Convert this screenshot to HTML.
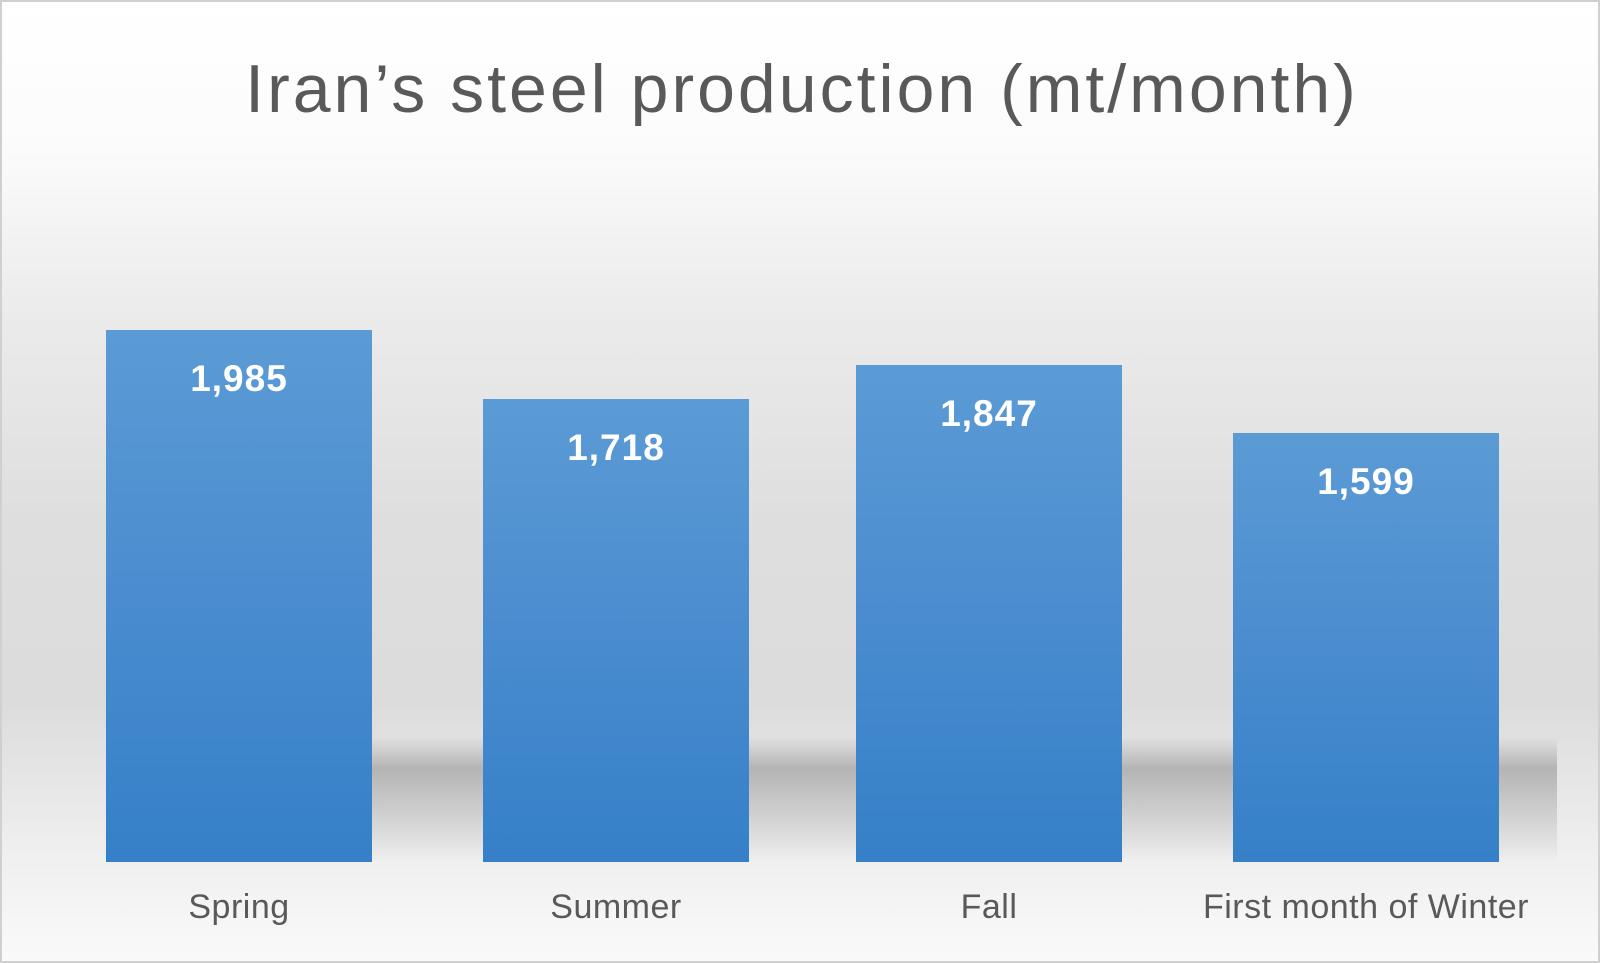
<!DOCTYPE html>
<html><head><style>
body{margin:0;}
#c{position:relative;width:1600px;height:963px;overflow:hidden;box-sizing:border-box;border:2px solid #d0d0d0;
background:linear-gradient(to bottom,#ffffff 0px,#fbfbfb 150px,#ececec 300px,#dedede 520px,#dcdcdc 700px,#f0f0f0 860px,#fafafa 963px);font-family:"Liberation Sans",sans-serif;}
.t{position:absolute;left:0;width:1600px;top:48px;text-align:center;font-size:68px;letter-spacing:3px;color:#595959;}
.b{position:absolute;width:266px;background:linear-gradient(to bottom,#5b9bd5,#4a8ccf 50%,#3580c8);}
.v{position:absolute;width:266px;text-align:center;color:#fff;font-weight:bold;font-size:37px;letter-spacing:1px;}
.l{position:absolute;width:400px;text-align:center;color:#595959;font-size:34px;letter-spacing:0.5px;top:886px;}
.sh{position:absolute;top:735px;height:125px;left:370px;width:1185px;background:linear-gradient(to bottom,rgba(170,170,170,0) 0%,rgba(175,175,175,0.9) 25%,rgba(200,200,200,0.6) 70%,rgba(240,240,240,0) 100%);}
</style></head><body><div id="c">
<div class="t">Iran’s steel production (mt/month)</div>
<div class="sh"></div>
<div class="b" style="left:104px;top:328px;height:532px"></div>
<div class="b" style="left:481px;top:397px;height:463px"></div>
<div class="b" style="left:854px;top:363px;height:497px"></div>
<div class="b" style="left:1231px;top:431px;height:429px"></div>
<div class="v" style="left:104px;top:356px">1,985</div>
<div class="v" style="left:481px;top:425px">1,718</div>
<div class="v" style="left:854px;top:391px">1,847</div>
<div class="v" style="left:1231px;top:459px">1,599</div>
<div class="l" style="left:37px">Spring</div>
<div class="l" style="left:414px">Summer</div>
<div class="l" style="left:787px">Fall</div>
<div class="l" style="left:1164px">First month of Winter</div>
</div></body></html>
